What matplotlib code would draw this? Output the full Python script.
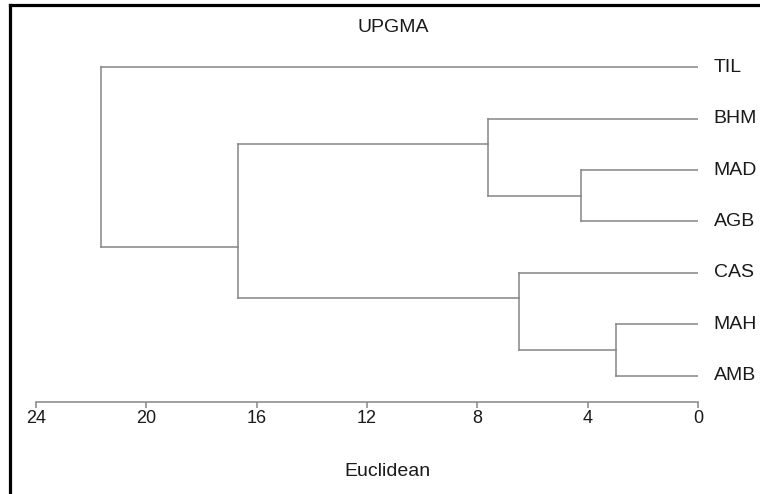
import matplotlib
matplotlib.use("Agg")
import matplotlib.pyplot as plt
from matplotlib.lines import Line2D

plt.rcParams['font.family'] = ['Liberation Sans', 'DejaVu Sans']

# leaves, top to bottom
leaves = ['TIL', 'BHM', 'MAD', 'AGB', 'CAS', 'MAH', 'AMB']
# merges: (child a, child b, height); new clusters numbered from len(leaves)
merge_a = [5, 2, 4, 1, 9, 0]
merge_b = [6, 3, 7, 8, 10, 11]
merge_h = [2.99, 4.25, 6.50, 7.61, 16.69, 21.64]
# row where each new cluster's branch leaves it (as drawn in the picture)
merge_y = [5.5, 2.5, 4.5, 1.5, 3.5, 1.75]

ticks = [24, 20, 16, 12, 8, 4, 0]

W, H = 760, 494
fig = plt.figure(figsize=(W / 100, H / 100), dpi=100)
ax = fig.add_axes([35.7 / W, 1 - 401.7 / H, (698.3 - 35.7) / W, (401.7 - 16) / H])

line_col = '#858585'
lw = 1.1

# position/height of every node (leaves at height 0)
pos_y = {i: float(i) for i in range(len(leaves))}
pos_h = {i: 0.0 for i in range(len(leaves))}
for k, (a, b, h, y) in enumerate(zip(merge_a, merge_b, merge_h, merge_y)):
    node = len(leaves) + k
    for c in (a, b):
        ax.plot([pos_h[c], h], [pos_y[c], pos_y[c]], color=line_col, lw=lw)
    ax.plot([h, h], [pos_y[a], pos_y[b]], color=line_col, lw=lw)
    pos_y[node] = y
    pos_h[node] = h

for i, name in enumerate(leaves):
    ax.annotate(name, (0, i), xytext=(11, 0), textcoords='offset points',
                va='center', ha='left', fontsize=14, color='#1a1a1a',
                annotation_clip=False)

ax.set_xlim(24, 0)
ax.set_ylim(6.51, -1)
ax.set_xticks(ticks)
ax.set_xticklabels([str(t) for t in ticks])
ax.set_yticks([])
for s in ('left', 'right', 'top'):
    ax.spines[s].set_visible(False)
ax.spines['bottom'].set_color(line_col)
ax.spines['bottom'].set_linewidth(lw)
ax.tick_params(axis='x', direction='out', length=4, width=lw, color=line_col,
               labelsize=13, labelcolor='#1a1a1a', pad=2)
ax.patch.set_visible(False)

fig.text(393 / W, 1 - 27 / H, 'UPGMA', ha='center', va='center',
         fontsize=14, color='#1a1a1a')
fig.text(387.5 / W, 1 - 471 / H, 'Euclidean', ha='center', va='center',
         fontsize=14, color='#1a1a1a')

# black frame on top and left edges
fig.add_artist(Line2D([10 / W, 1], [1 - 5 / H, 1 - 5 / H], color='black', lw=2.3,
                      transform=fig.transFigure, solid_capstyle='projecting'))
fig.add_artist(Line2D([10 / W, 10 / W], [1 - 5 / H, 0], color='black', lw=2.3,
                      transform=fig.transFigure, solid_capstyle='projecting'))

fig.savefig('out.png', dpi=100)
